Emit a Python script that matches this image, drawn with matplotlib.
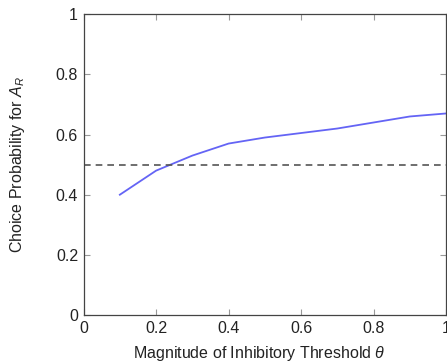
import matplotlib
matplotlib.use("Agg")
import matplotlib.pyplot as plt

plt.rcParams['font.family'] = ['Liberation Sans', 'DejaVu Sans']
plt.rcParams['mathtext.fontset'] = 'custom'
plt.rcParams['mathtext.it'] = 'Liberation Sans:italic'
plt.rcParams['mathtext.rm'] = 'Liberation Sans'

theta = [0.1, 0.2, 0.3, 0.4, 0.5, 0.6, 0.7, 0.8, 0.9, 1.0]
choice_prob = [0.40, 0.48, 0.53, 0.57, 0.59, 0.605, 0.62, 0.64, 0.66, 0.67]
chance_level = 0.5

fig = plt.figure(figsize=(4.47, 3.63), dpi=100)
ax = fig.add_axes([0.187, 0.132, 0.811, 0.829])

ax.plot(theta, choice_prob, color='#6464f5', lw=1.3)
ax.axhline(chance_level, color='#555555', ls=(0, (4, 3)), lw=1.2)

ax.set_xlim(0, 1)
ax.set_ylim(0, 1)
ax.set_xticks([0, 0.2, 0.4, 0.6, 0.8, 1])
ax.set_xticklabels(['0', '0.2', '0.4', '0.6', '0.8', '1'])
ax.set_yticks([0, 0.2, 0.4, 0.6, 0.8, 1])
ax.set_yticklabels(['0', '0.2', '0.4', '0.6', '0.8', '1'])
ax.tick_params(direction='in', top=True, right=True, length=4, width=0.8,
               color='#999999', labelsize=11.5, labelcolor='#222222')
ax.tick_params(axis='y', pad=4)
ax.tick_params(axis='x', pad=4.5)
for s in ax.spines.values():
    s.set_color('#444444')
    s.set_linewidth(0.9)

ax.set_xlabel(r'Magnitude of Inhibitory Threshold $\theta$', fontsize=11.5,
              color='#222222')
ax.set_ylabel(r'Choice Probability for $A_R$', fontsize=11.5,
              color='#222222')
ax.xaxis.set_label_coords(0.484, -0.097)
ax.yaxis.set_label_coords(-0.156, 0.5)

fig.savefig("out.png", dpi=100)
